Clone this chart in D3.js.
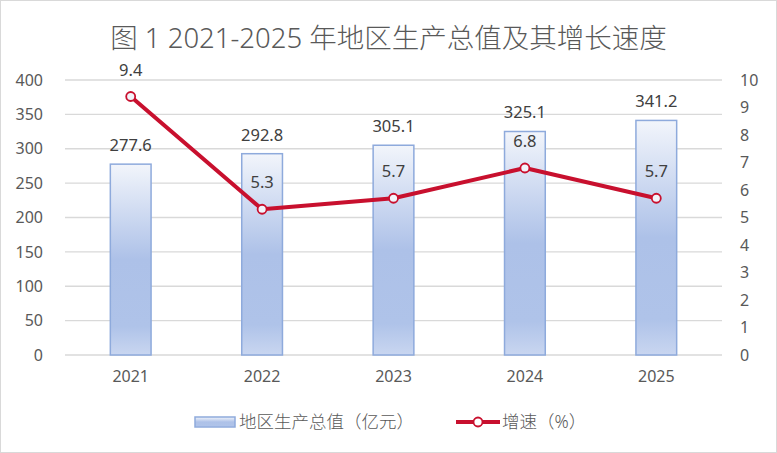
<!DOCTYPE html>
<html>
<head>
<meta charset="utf-8">
<script src="https://cdn.jsdelivr.net/npm/d3@7"></script>
<style>
  body { margin: 0; background: #fff; }
  svg text { font-family: "Noto Sans", "Noto Sans CJK SC", sans-serif; }
</style>
</head>
<body>
<div id="chart"></div>
<script>
const years = ["2021", "2022", "2023", "2024", "2025"];
const gdp = [277.6, 292.8, 305.1, 325.1, 341.2];
const growth = [9.4, 5.3, 5.7, 6.8, 5.7];
const leftTicks = [0, 50, 100, 150, 200, 250, 300, 350, 400];
const rightTicks = [0, 1, 2, 3, 4, 5, 6, 7, 8, 9, 10];

const W = 777, H = 453;
const plot = { left: 65, right: 722, top: 80, bottom: 355 };

const svg = d3.select("#chart").append("svg")
    .attr("width", W)
    .attr("height", H);

// gradient for bars
const grad = svg.append("defs").append("linearGradient")
    .attr("id", "barFill")
    .attr("x1", 0).attr("y1", 0).attr("x2", 0).attr("y2", 1);
grad.append("stop").attr("offset", "0%").attr("stop-color", "#f2f5fb");
grad.append("stop").attr("offset", "50%").attr("stop-color", "#adc1e8");
grad.append("stop").attr("offset", "85%").attr("stop-color", "#afc3e9");
grad.append("stop").attr("offset", "100%").attr("stop-color", "#c9d6f0");

svg.append("rect")
    .attr("x", 0.5).attr("y", 0.5)
    .attr("width", W - 1).attr("height", H - 1)
    .attr("fill", "#fff")
    .attr("stroke", "#d9d9d9");

let xScale = d3.scaleBand()
    .domain(years)
    .range([plot.left, plot.right])
    .padding(0);

let yLeft = d3.scaleLinear().domain([0, 400]).range([plot.bottom, plot.top]);
let yRight = d3.scaleLinear().domain([0, 10]).range([plot.bottom, plot.top]);

// gridlines
svg.append("g")
    .selectAll("line")
    .data(leftTicks)
    .join("line")
    .attr("x1", plot.left)
    .attr("x2", plot.right)
    .attr("y1", d => yLeft(d))
    .attr("y2", d => yLeft(d))
    .attr("stroke", "#d9d9d9")
    .attr("stroke-width", 1.3);

// left axis
const axL = svg.append("g")
    .attr("transform", "translate(" + (plot.left - 22) + ",0)")
    .call(d3.axisLeft(yLeft).tickValues(leftTicks).tickSize(0).tickPadding(0));
axL.select(".domain").remove();
axL.selectAll("text").attr("fill", "#595959").style("font-size", "16px");

// right axis
const axR = svg.append("g")
    .attr("transform", "translate(" + (plot.right + 18) + ",0)")
    .call(d3.axisRight(yRight).tickValues(rightTicks).tickSize(0).tickPadding(0));
axR.select(".domain").remove();
axR.selectAll("text").attr("fill", "#595959").style("font-size", "16px");

// x axis labels
const axX = svg.append("g")
    .attr("transform", "translate(0," + (plot.bottom + 16) + ")")
    .call(d3.axisBottom(xScale).tickSize(0).tickPadding(0));
axX.select(".domain").remove();
axX.selectAll("text").attr("fill", "#595959").style("font-size", "16px");

// bars
const barW = xScale.bandwidth() * 0.31;
svg.append("g")
    .selectAll("rect")
    .data(gdp)
    .join("rect")
    .attr("x", (d, i) => xScale(years[i]) + xScale.bandwidth() / 2 - barW / 2)
    .attr("y", d => yLeft(d))
    .attr("width", barW)
    .attr("height", d => plot.bottom - yLeft(d))
    .attr("fill", "url(#barFill)")
    .attr("stroke", "#8eaadc")
    .attr("stroke-width", 1.5);

svg.append("g")
    .selectAll("text")
    .data(gdp)
    .join("text")
    .attr("x", (d, i) => xScale(years[i]) + xScale.bandwidth() / 2)
    .attr("y", d => yLeft(d) - 13)
    .attr("text-anchor", "middle")
    .attr("fill", "#404040")
    .style("font-size", "16.5px")
    .text(d => d.toFixed(1));

// growth line
let line = d3.line()
    .x((d, i) => xScale(years[i]) + xScale.bandwidth() / 2)
    .y(d => yRight(d));

svg.append("path")
    .datum(growth)
    .attr("fill", "none")
    .attr("stroke", "#c8102e")
    .attr("stroke-width", 4)
    .attr("stroke-linejoin", "round")
    .attr("d", line);

svg.append("g")
    .selectAll("circle")
    .data(growth)
    .join("circle")
    .attr("cx", (d, i) => xScale(years[i]) + xScale.bandwidth() / 2)
    .attr("cy", d => yRight(d))
    .attr("r", 4.5)
    .attr("fill", "#f2f4fa")
    .attr("stroke", "#c8102e")
    .attr("stroke-width", 1.8);

svg.append("g")
    .selectAll("text")
    .data(growth)
    .join("text")
    .attr("x", (d, i) => xScale(years[i]) + xScale.bandwidth() / 2)
    .attr("y", d => yRight(d) - 21)
    .attr("text-anchor", "middle")
    .attr("fill", "#404040")
    .style("font-size", "16.5px")
    .text(d => d.toFixed(1));

// title
svg.append("text")
    .text("图 1 2021-2025 年地区生产总值及其增长速度")
    .attr("x", W / 2)
    .attr("y", 48)
    .attr("text-anchor", "middle")
    .attr("fill", "#595959")
    .style("font-size", "27.5px")
    .style("font-weight", "300");

// legend
const lg = svg.append("g");
lg.append("rect")
    .attr("x", 195).attr("y", 417)
    .attr("width", 40).attr("height", 10)
    .attr("fill", "url(#barFill)")
    .attr("stroke", "#8eaadc")
    .attr("stroke-width", 1.5);
lg.append("text")
    .text("地区生产总值（亿元）")
    .attr("x", 239).attr("y", 428)
    .attr("fill", "#595959")
    .style("font-size", "17.5px")
    .style("font-weight", "300");
lg.append("line")
    .attr("x1", 456).attr("x2", 500)
    .attr("y1", 422).attr("y2", 422)
    .attr("stroke", "#c8102e")
    .attr("stroke-width", 4);
lg.append("circle")
    .attr("cx", 478).attr("cy", 422).attr("r", 4.5)
    .attr("fill", "#fff")
    .attr("stroke", "#c8102e")
    .attr("stroke-width", 1.8);
lg.append("text")
    .text("增速（%）")
    .attr("x", 502).attr("y", 428)
    .attr("fill", "#595959")
    .style("font-size", "17.5px")
    .style("font-weight", "300");
</script>
</body>
</html>
